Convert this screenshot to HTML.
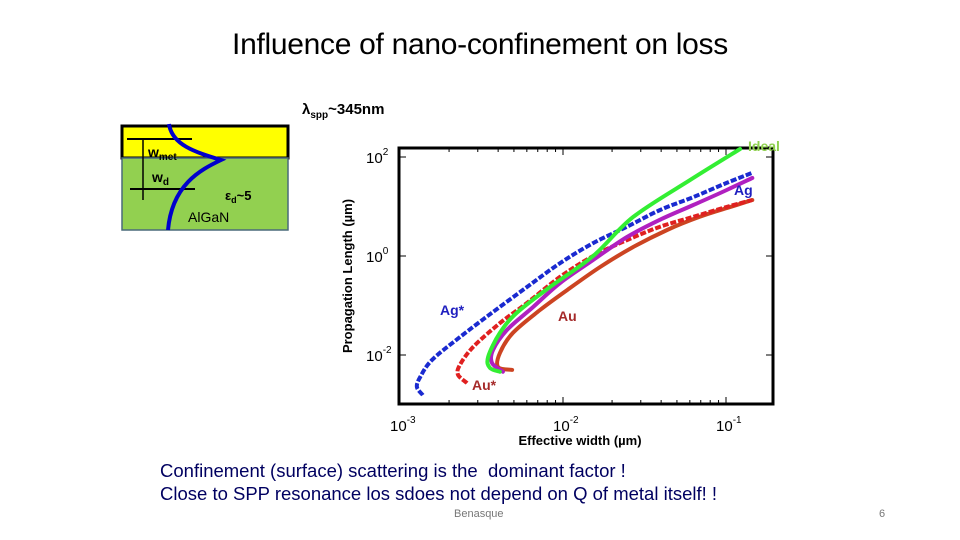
<!DOCTYPE html>
<html><head><meta charset="utf-8"><style>
body{margin:0;background:#fff;}
#wrap{position:relative;width:960px;height:540px;overflow:hidden;font-family:"Liberation Sans",sans-serif;}
.t{position:absolute;white-space:nowrap;}
</style></head><body>
<div id="wrap">
<div class="t" style="left:0;width:960px;text-align:center;top:28px;font-size:30px;letter-spacing:-0.3px;color:#000;">Influence of nano-confinement on loss</div>
<div class="t" style="left:302px;top:101px;font-size:15px;font-weight:bold;">λ<sub style="font-size:10px">spp</sub>~345nm</div>
<svg width="960" height="540" style="position:absolute;left:0;top:0" id="svg">
 <g>
  <rect x="122" y="126" width="166" height="32" fill="#ffff00" stroke="#000" stroke-width="3"/>
  <rect x="122" y="158" width="166" height="72" fill="#92d050" stroke="#4a6a7a" stroke-width="1.5"/>
  <line x1="127" y1="139" x2="192" y2="139" stroke="#000" stroke-width="2"/>
  <line x1="130" y1="189" x2="195" y2="189" stroke="#000" stroke-width="2"/>
  <line x1="143" y1="139" x2="143" y2="200" stroke="#000" stroke-width="1.5"/>
  <path d="M169,124 C172,145 195,152 221,160 C200,170 172,185 168,230" fill="none" stroke="#0000cc" stroke-width="4"/>
  <text x="148" y="157" font-size="14" font-weight="bold" font-family="Liberation Sans">w<tspan font-size="10" dy="3">met</tspan></text>
  <text x="152" y="182" font-size="14" font-weight="bold" font-family="Liberation Sans">w<tspan font-size="10" dy="3">d</tspan></text>
  <text x="225" y="200" font-size="13" font-weight="bold" font-family="Liberation Sans">ε<tspan font-size="9" dy="3">d</tspan><tspan dy="-3">~5</tspan></text>
  <text x="188" y="222" font-size="14" font-family="Liberation Sans">AlGaN</text>
 </g>
 <rect x="399" y="148" width="374" height="256" fill="none" stroke="#000" stroke-width="3"/>
 <g id="ticks"></g>
 <g id="series"></g>
 <text x="352" y="276" transform="rotate(-90 352 276)" text-anchor="middle" font-size="13" font-weight="bold" font-family="Liberation Sans">Propagation Length (µm)</text>
 <text x="580" y="445" text-anchor="middle" font-size="13" font-weight="bold" font-family="Liberation Sans">Effective width (µm)</text>
 <text x="748" y="151" font-size="14" font-weight="bold" fill="#8fd14f" font-family="Liberation Sans">Ideal</text>
 <text x="734" y="195" font-size="14" font-weight="bold" fill="#1f1fbf" font-family="Liberation Sans">Ag</text>
 <text x="440" y="315" font-size="14" font-weight="bold" fill="#1f1fbf" font-family="Liberation Sans">Ag*</text>
 <text x="558" y="321" font-size="14" font-weight="bold" fill="#a52a2a" font-family="Liberation Sans">Au</text>
 <text x="472" y="390" font-size="14" font-weight="bold" fill="#a52a2a" font-family="Liberation Sans">Au*</text>
</svg>
<div class="t" style="left:160px;top:459px;font-size:18.5px;line-height:23px;color:#000060;">Confinement (surface) scattering is the&nbsp; dominant factor !<br>Close to SPP resonance los sdoes not depend on Q of metal itself! !</div>
<div class="t" style="left:454px;top:508px;font-size:11px;color:#777;">Benasque</div>
<div class="t" style="left:879px;top:508px;font-size:11px;color:#777;">6</div>
</div>
<script>
const xTicks=[0.001,0.01,0.1];
const xTickLabels=["-3","-2","-1"];
const yTicks=[100,1,0.01];
const yTickLabels=["2","0","-2"];
const idealX=[0.0041,0.00356,0.00347,0.0041,0.0052,0.0083,0.0153,0.0269,0.060,0.122];
const idealY=[0.0046,0.0055,0.0091,0.028,0.071,0.235,1.0,6.1,34,145];
const agStarX=[0.00138,0.00127,0.00133,0.00157,0.00233,0.00372,0.0060,0.0096,0.0153,0.0247,0.0394,0.063,0.101,0.145];
const agStarY=[0.00155,0.00225,0.0036,0.0079,0.023,0.074,0.235,0.72,1.82,3.9,8.5,15.5,30,48];
const agX=[0.00428,0.00367,0.00372,0.00453,0.00655,0.0096,0.0153,0.0247,0.0394,0.063,0.101,0.145];
const agY=[0.0046,0.0069,0.0126,0.032,0.093,0.285,0.83,2.42,5.4,10.7,21.5,37.7];
const auStarX=[0.00258,0.00227,0.00233,0.00281,0.0041,0.0060,0.0096,0.0153,0.0247,0.0394,0.063,0.101,0.145];
const auStarY=[0.0027,0.0040,0.0063,0.0145,0.044,0.112,0.38,1.0,2.1,3.9,6.2,9.8,13.5];
const auX=[0.00487,0.0040,0.0041,0.00493,0.00723,0.0106,0.0169,0.0269,0.0435,0.069,0.101,0.145];
const auY=[0.0050,0.0057,0.011,0.028,0.081,0.205,0.60,1.51,3.35,6.2,9.3,13.5];

const NS="http://www.w3.org/2000/svg";
function sx(v){return 400+163*(Math.log10(v)+3);}
function sy(v){return 157-49.5*(Math.log10(v)-2);}
const tg=document.getElementById('ticks');
function mk(tag,attrs,parent){const e=document.createElementNS(NS,tag);for(const k in attrs)e.setAttribute(k,attrs[k]);parent.appendChild(e);return e;}
for(let d=-3;d<=-1;d++){for(let m=1;m<=9;m++){const v=m*Math.pow(10,d);const x=sx(v);if(x<400||x>772)continue;const L=m===1?7:4;
 const a=mk('line',{x1:x,y1:404,x2:x,y2:404-L,stroke:'#000','stroke-width':1},tg);
 
 
 const b=mk('line',{x1:x,y1:148,x2:x,y2:148+L,stroke:'#000','stroke-width':1},tg);
 
 }}
xTicks.forEach((v,i)=>{const t=mk('text',{x:sx(v)-10,y:431,'font-size':15,'font-family':'Liberation Sans'},tg);
 
 
 t.innerHTML='10<tspan font-size="10" dy="-8">'+xTickLabels[i]+'</tspan>';});
yTicks.forEach((v,i)=>{const y=sy(v);
 const a=mk('line',{x1:399,y1:y,x2:406,y2:y,stroke:'#000','stroke-width':1},tg);
 
 
 const b=mk('line',{x1:773,y1:y,x2:766,y2:y,stroke:'#000','stroke-width':1},tg);
 
 
 const t=mk('text',{x:366,y:y+6,'font-size':15,'font-family':'Liberation Sans'},tg);
 
 
 t.innerHTML='10<tspan font-size="10" dy="-8">'+yTickLabels[i]+'</tspan>';});
const sg=document.getElementById('series');
function line(xs,ys,color,dash,name){
 const P=xs.map((v,i)=>[sx(v),sy(ys[i])]);
 let d='M'+P[0][0].toFixed(1)+','+P[0][1].toFixed(1);
 for(let i=0;i<P.length-1;i++){const p0=P[Math.max(0,i-1)],p1=P[i],p2=P[i+1],p3=P[Math.min(P.length-1,i+2)];
  const c1=[p1[0]+(p2[0]-p0[0])/6,p1[1]+(p2[1]-p0[1])/6],c2=[p2[0]-(p3[0]-p1[0])/6,p2[1]-(p3[1]-p1[1])/6];
  d+='C'+c1[0].toFixed(1)+','+c1[1].toFixed(1)+' '+c2[0].toFixed(1)+','+c2[1].toFixed(1)+' '+p2[0].toFixed(1)+','+p2[1].toFixed(1);}
 const p=mk('path',{d:d,fill:'none',stroke:color,'stroke-width':4,'stroke-linecap':dash?'butt':'round','stroke-linejoin':'round'},sg);
 if(dash)p.setAttribute('stroke-dasharray',dash);
 
 }
line(auX,auY,'#cc4422',null,'series-au');
line(auStarX,auStarY,'#e02020','6,2','series-au-star');
line(agX,agY,'#b020c0',null,'series-ag');
line(agStarX,agStarY,'#1a2ad0','6,2','series-ag-star');
line(idealX,idealY,'#33ee33',null,'series-ideal');
</script>
</body></html>
